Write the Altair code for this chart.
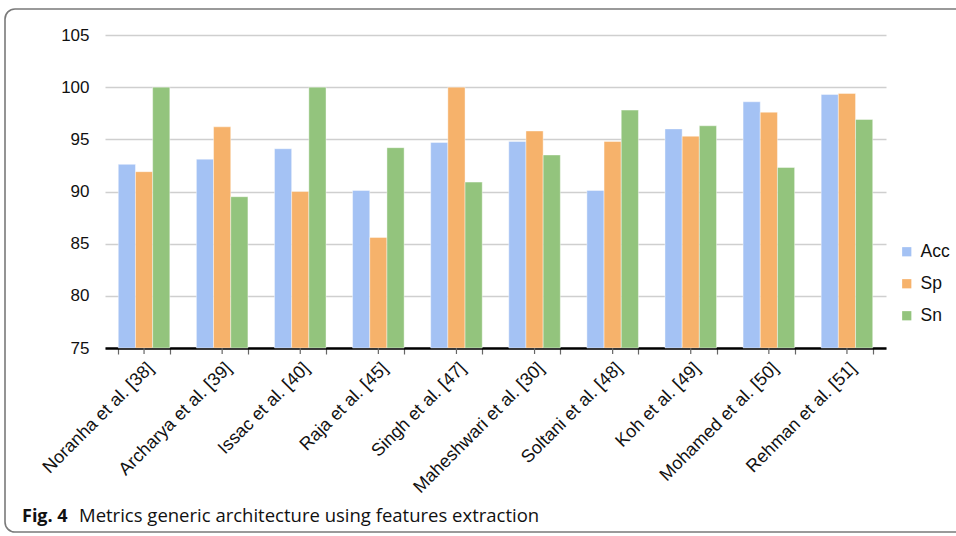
import altair as alt
import pandas as pd

categories = ["Noranha et al. [38]", "Archarya et al. [39]", "Issac et al. [40]",
              "Raja et al. [45]", "Singh et al. [47]", "Maheshwari et al. [30]",
              "Soltani et al. [48]", "Koh et al. [49]", "Mohamed et al. [50]",
              "Rehman et al. [51]"]
series = ["Acc", "Sp", "Sn"]
acc = [92.6, 93.1, 94.1, 90.1, 94.7, 94.8, 90.1, 96.0, 98.6, 99.3]
sp = [91.9, 96.2, 90.0, 85.6, 100.0, 95.8, 94.8, 95.3, 97.6, 99.4]
sn = [100.0, 89.5, 100.0, 94.2, 90.9, 93.5, 97.8, 96.3, 92.3, 96.9]
colors = ["#a4c2f4", "#f6b26b", "#93c47d"]
y_ticks = [75, 80, 85, 90, 95, 100, 105]
caption_bold = "Fig. 4"
caption_text = "Metrics generic architecture using features extraction"

rows = []
for i, c in enumerate(categories):
    for s, vals in zip(series, [acc, sp, sn]):
        rows.append({"Study": c, "Metric": s, "Value": vals[i]})
df = pd.DataFrame(rows)

W, H = 781, 313
FONT = "Liberation Sans"

xscale = alt.Scale(domain=categories, paddingInner=0.34, paddingOuter=0.17)

bars = alt.Chart(df).mark_bar(stroke="white", strokeWidth=0.6, strokeOpacity=0.7).encode(
    x=alt.X("Study:N", sort=categories, scale=xscale, title=None,
            axis=alt.Axis(labelAngle=-45, labelFont=FONT, labelFontSize=18,
                          labelColor="#111", domainColor="#000", domainWidth=2.5,
                          tickBand="extent", tickExtra=True, tickColor="#666",
                          tickWidth=1.2, tickSize=6, labelPadding=5, grid=False)),
    xOffset=alt.XOffset("Metric:N", sort=series, scale=alt.Scale(paddingInner=0, paddingOuter=0)),
    y=alt.Y("Value:Q", scale=alt.Scale(domain=[75, 105], zero=False, nice=False),
            title=None,
            axis=alt.Axis(values=y_ticks, labelFont=FONT, labelFontSize=17,
                          labelColor="#111", domain=False, ticks=False,
                          labelPadding=16, gridColor="#cfcfcf", gridWidth=1.3)),
    y2=alt.datum(75),
    color=alt.Color("Metric:N", sort=series,
                    scale=alt.Scale(domain=series, range=colors),
                    legend=alt.Legend(title=None, orient="none", legendX=793, legendY=208,
                                      symbolType="square", symbolSize=85,
                                      symbolStrokeWidth=0, labelFont=FONT,
                                      labelFontSize=17.5, labelColor="#111",
                                      rowPadding=13, labelOffset=5)),
)

center_ticks = alt.Chart(pd.DataFrame({"Study": categories})).mark_rule(
    color="#666", strokeWidth=1.2).encode(
    x=alt.X("Study:N", sort=categories, scale=xscale),
    y=alt.value(H),
    y2=alt.value(H + 6),
)

border = alt.Chart(pd.DataFrame({"a": [0]})).mark_rect(
    fillOpacity=0, stroke="#7a7a7a", strokeWidth=1.6, cornerRadius=10).encode(
    x=alt.value(-100), x2=alt.value(880), y=alt.value(-26), y2=alt.value(497))

cap1 = alt.Chart(pd.DataFrame({"t": [caption_bold]})).mark_text(
    font="Open Sans", fontSize=18, fontWeight="bold", align="left", baseline="alphabetic",
    color="#111").encode(x=alt.value(-83), y=alt.value(487), text="t:N")
cap2 = alt.Chart(pd.DataFrame({"t": [caption_text]})).mark_text(
    font="Open Sans", fontSize=18.5, align="left", baseline="alphabetic",
    color="#111").encode(x=alt.value(-26), y=alt.value(487), text="t:N")

chart = alt.layer(bars, center_ticks, border, cap1, cap2).properties(
    width=W, height=H,
    padding={"left": 105, "top": 35, "right": 70, "bottom": 188},
    autosize=alt.AutoSizeParams(type="none"),
).configure(background="white", view=alt.ViewConfig(stroke=None))

chart.save("out.html", embed_options={"renderer": "svg", "actions": False})
